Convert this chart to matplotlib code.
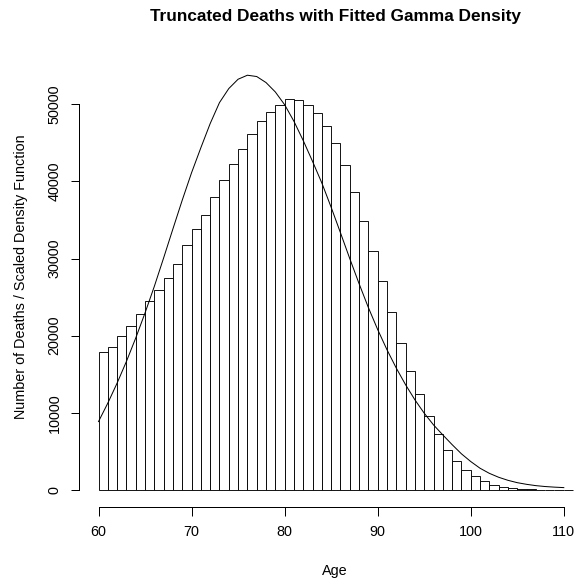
import matplotlib
matplotlib.use("Agg")
import matplotlib.pyplot as plt

plt.rcParams['font.family'] = ['Liberation Sans', 'DejaVu Sans']

# Data
ages = list(range(60, 111))
deaths = [17835, 18571, 19913, 21299, 22857, 24459, 25931, 27489, 29307, 31775,
          33810, 35671, 37922, 40130, 42251, 44156, 46104, 47835, 49048, 49913,
          50693, 50606, 49957, 48918, 47186, 44935, 42078, 38615, 34892, 31039,
          27056, 23030, 19048, 15455, 12381, 9654, 7229, 5238, 3723, 2597,
          1775, 1126, 693, 433, 260, 173, 87, 50, 30, 15, 10]
gamma_curve = [8870, 11260, 13860, 16665, 19700, 22950, 26400, 30090, 33860, 37580,
               41130, 44370, 47500, 50220, 52040, 53250, 53770, 53600, 52820, 51600,
               49950, 47800, 45300, 42600, 39800, 36650, 33350, 30000, 26750, 23650,
               20800, 18180, 15800, 13640, 11690, 9960, 8440, 7140, 5880, 4690,
               3690, 2820, 2160, 1650, 1255, 950, 735, 565, 450, 370, 310]
x_ticks = [60, 70, 80, 90, 100, 110]
y_ticks = [0, 10000, 20000, 30000, 40000, 50000]

title = "Truncated Deaths with Fitted Gamma Density"
xlabel = "Age"
ylabel = "Number of Deaths / Scaled Density Function"

W, H = 576, 584
fig = plt.figure(figsize=(W / 72, H / 72), dpi=72)

left_px, right_px, top_px, bottom_px = 79.3, 576.0, 48.0, 507.0
ax = fig.add_axes([left_px / W, 1 - bottom_px / H,
                   (right_px - left_px) / W, (bottom_px - top_px) / H])

ax.bar(ages, deaths, width=1, align='edge', color='white',
       edgecolor='black', linewidth=0.9)
ax.plot(ages, gamma_curve, color='black', linewidth=1.0)

px_per_year = 9.306
xmin = 60 - (98.5 - left_px) / px_per_year
ax.set_xlim(xmin, xmin + (right_px - left_px) / px_per_year)
val_per_px = 50000 / 385.7
ax.set_ylim(-(bottom_px - 490) * val_per_px, (490 - top_px) * val_per_px)

for s in ['top', 'right']:
    ax.spines[s].set_visible(False)
ax.spines['left'].set_bounds(0, 50000)
ax.spines['bottom'].set_bounds(60, 110)
for s in ['left', 'bottom']:
    ax.spines[s].set_linewidth(1.0)

ax.set_xticks(x_ticks)
ax.set_xticklabels([str(t) for t in x_ticks])
ax.set_yticks(y_ticks)
ax.set_yticklabels([str(t) for t in y_ticks], rotation=90, va='center')
ax.tick_params(axis='both', direction='out', length=8.5, width=1.0,
               labelsize=14.4, colors='black')
ax.tick_params(axis='x', pad=9.8)
ax.tick_params(axis='y', pad=9.4)

fig.text(335.7 / W, 1 - 21 / H, title, ha='center', va='baseline',
         fontsize=17.28, fontweight='bold')
fig.text(335.0 / W, 1 - 575 / H, xlabel, ha='center', va='baseline', fontsize=14.4)
fig.text(25.0 / W, 1 - 277.0 / H, ylabel, ha='center', va='baseline',
         rotation=90, rotation_mode='anchor', fontsize=14.4)

fig.savefig('out.png', dpi=72)
